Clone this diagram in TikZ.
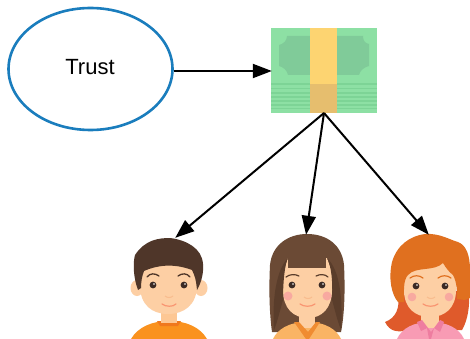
\documentclass[tikz,border=0pt]{standalone}
\usepackage{fontspec}
\setmainfont{Liberation Sans}
\usetikzlibrary{arrows.meta,shapes.geometric}
\definecolor{skin}{HTML}{FDCFA4}
\definecolor{skind}{HTML}{F8BC8E}
\definecolor{eyec}{HTML}{3A2A25}
\definecolor{cheek}{HTML}{F8A9A0}
\definecolor{browm}{HTML}{4F3629}
\definecolor{hairb}{HTML}{6B4A35}
\definecolor{hairbd}{HTML}{5A3D2B}
\definecolor{hairo}{HTML}{E0701F}
\definecolor{hairr}{HTML}{DF5A2B}
\definecolor{c}{HTML}{1A7DBD}
\tikzset{
  x=1pt,y=-1pt,
  trustnode/.style={draw=c,line width=2.6pt,ellipse,minimum width=164pt,minimum height=122pt,inner sep=0pt,font=\fontsize{22pt}{24pt}\selectfont},
  conn/.style={draw=black,line width=2pt,-{Triangle[length=19pt,width=14pt]}},
  anchorpt/.style={inner sep=0pt,minimum size=0pt},
  eyedot/.style={fill=eyec},
  mouthline/.style={draw=skind!80!red,line width=1.2pt,line cap=round},
}
\begin{document}
\begin{tikzpicture}
\useasboundingbox (0,0) rectangle (470,339);
\clip (0,0) rectangle (470,339);
\fill[white] (0,0) rectangle (470,339);
% money
\fill[fill={rgb,255:red,141;green,224;blue,164}] (271,28) rectangle (377,113);
\fill[fill={rgb,255:red,128;green,203;blue,153}] (287,36) -- (363,36) .. controls (363,41) and (365,43) .. (369,44) -- (369,66) .. controls (365,67) and (360,70) .. (359,75) -- (288,75) .. controls (287,70) and (283,67) .. (279,66) -- (279,45) .. controls (283,44) and (287,41) .. (287,36) -- cycle;
\foreach \yy in {83.5,88,92.5,96.5,100.5,104.5,108}
  \fill[fill={rgb,255:red,125;green,212;blue,150}] (271,\yy) rectangle (377,\yy+1.2);
\fill[fill={rgb,255:red,253;green,212;blue,113}] (310,28) rectangle (337,84);
\fill[fill={rgb,255:red,230;green,190;blue,110}] (310,84) rectangle (337,113);
\node[anchorpt,minimum width=106pt,minimum height=85pt] (money) at (324,70.5) {};
% man
\fill[fill=skin] (137,288) ellipse [x radius=6.5,y radius=8];
\fill[fill=skin] (201,288) ellipse [x radius=6.5,y radius=8];
\fill[fill={rgb,255:red,250;green,146;blue,30}] (131,339) .. controls (138,327) and (152,321) .. (169,321) .. controls (186,321) and (200,327) .. (207,339) -- cycle;
\fill[fill={rgb,255:red,240;green,120;blue,30}] (157,321) -- (181,321) -- (178,326) -- (160,326) -- cycle;
\fill[fill=skin!90!orange] (161,305) rectangle (177,323);
\fill[fill=skin] (140,262) -- (197,262) -- (197,285) .. controls (197,305) and (184,314) .. (168,314) .. controls (152,314) and (140,305) .. (140,285) -- cycle;
\fill[fill=browm] (138,290) .. controls (133,277) and (133,262) .. (135,255) .. controls (145,240) and (158,238) .. (170,238) .. controls (186,240) and (202,248) .. (203,264) .. controls (204,275) and (200,285) .. (197,290) .. controls (196,280) and (195,276) .. (192,270) .. controls (176,264) and (160,264) .. (144,271) .. controls (142,276) and (141,282) .. (141,288) -- cycle;
\fill[eyedot] (153,285) circle (3.4);
\fill[eyedot] (184,285) circle (3.4);
\fill[white] (154,284) circle (0.8);
\fill[white] (185,284) circle (0.8);
\draw[draw=browm,line width=1.3pt,line cap=round] (147,277) .. controls (150,273) and (155,273) .. (159,276);
\draw[draw=browm,line width=1.3pt,line cap=round] (178,276) .. controls (182,273) and (187,273) .. (190,277);
\draw[mouthline] (162,304) .. controls (166,307) and (173,307) .. (176,304);
\draw[draw=skind,line width=1pt] (165,296) .. controls (167,298) and (171,298) .. (173,296);
\node[anchorpt] (manp) at (175,238) {};
% woman
\fill[fill=hairb] (272,332) .. controls (269,310) and (269,285) .. (270,265) .. controls (272,245) and (288,234) .. (307,234) .. controls (327,234) and (342,245) .. (344,265) .. controls (345,285) and (345,312) .. (341,332) -- cycle;
\fill[fill={rgb,255:red,250;green,180;blue,100}] (273,339) .. controls (277,330) and (288,322) .. (307,322) .. controls (326,322) and (337,330) .. (341,339) -- cycle;
\fill[fill=skin] (299,310) rectangle (315,328);
\fill[fill={rgb,255:red,240;green,140;blue,50}] (294,322) -- (299,322) -- (308,332) -- (316,322) -- (320,322) -- (309,339) -- (306,339) -- cycle;
\fill[fill=skin] (288,258) -- (327,258) -- (332,272) -- (332,290) .. controls (332,308) and (322,318) .. (308,318) .. controls (293,318) and (283,308) .. (283,290) -- (283,272) -- cycle;
\fill[fill=hairb] (288,255) -- (326,255) -- (326,268) -- (288,268) -- cycle;
\fill[fill=hairbd] (288,258) .. controls (285,264) and (283,280) .. (283,300) .. controls (280,310) and (278,320) .. (274,330) .. controls (272,300) and (276,270) .. (288,258) -- cycle;
\fill[fill=hairbd] (327,258) .. controls (331,265) and (333,280) .. (332,300) .. controls (335,310) and (337,320) .. (341,330) .. controls (343,300) and (340,270) .. (327,258) -- cycle;
\fill[fill=cheek] (288,296) circle (4.5);
\fill[fill=cheek] (327,296) circle (4.5);
\fill[eyedot] (292,285) circle (3.4);
\fill[eyedot] (322,285) circle (3.4);
\fill[white] (293,284) circle (0.8);
\fill[white] (323,284) circle (0.8);
\draw[draw=hairbd,line width=1.2pt,line cap=round] (286,277) .. controls (290,274) and (295,274) .. (299,276);
\draw[draw=hairbd,line width=1.2pt,line cap=round] (316,276) .. controls (320,274) and (325,274) .. (328,277);
\draw[mouthline] (300,304) .. controls (304,307) and (311,307) .. (315,304);
\draw[draw=skind,line width=1pt] (304,297) .. controls (306,299) and (310,299) .. (312,297);
\node[anchorpt] (womanp) at (306,235) {};
% girl
\fill[fill=hairr] (398,295) .. controls (400,308) and (396,318) .. (385,322) .. controls (390,332) and (398,332) .. (404,331) -- (462,330) .. controls (468,320) and (470,305) .. (469,290) -- cycle;
\fill[fill={rgb,255:red,248;green,155;blue,180}] (397,339) .. controls (402,328) and (414,322) .. (430,322) .. controls (447,322) and (459,328) .. (464,339) -- cycle;
\fill[fill=skin] (421,310) rectangle (439,328);
\fill[fill={rgb,255:red,238;green,125;blue,160}] (417,322) -- (422,320) -- (431,332) -- (440,320) -- (444,322) -- (440,332) -- (434,328) -- (431,339) -- (429,339) -- (427,328) -- (421,331) -- cycle;
\fill[fill=skin] (404,258) -- (456,258) -- (456,290) .. controls (456,308) and (445,317) .. (430,317) .. controls (415,317) and (404,308) .. (404,290) -- cycle;
\fill[fill=hairo] (398,302) .. controls (392,295) and (388,280) .. (392,262) .. controls (397,245) and (410,236) .. (425,234) .. controls (440,233) and (450,240) .. (458,242) .. controls (466,245) and (470,255) .. (470,270) -- (470,298) -- (465,300) -- (457,299) .. controls (457,292) and (457,282) .. (453,275) .. controls (449,272) and (446,268) .. (443,263) .. controls (434,272) and (416,266) .. (408,275) .. controls (403,280) and (404,292) .. (404,302) -- cycle;
\fill[fill=cheek] (412,297) circle (4.3);
\fill[fill=cheek] (449,297) circle (4.3);
\fill[eyedot] (416,286) circle (3.4);
\fill[eyedot] (445,286) circle (3.4);
\fill[white] (417,285) circle (0.8);
\fill[white] (446,285) circle (0.8);
\draw[draw=hairo,line width=1.2pt,line cap=round] (410,278) .. controls (414,275) and (419,275) .. (423,278);
\draw[draw=hairo,line width=1.2pt,line cap=round] (438,278) .. controls (442,275) and (447,275) .. (451,278);
\draw[mouthline] (423,304) .. controls (427,307) and (434,307) .. (438,304);
\draw[draw=skind,line width=1pt] (427,297) .. controls (429,299) and (433,299) .. (435,297);
\node[anchorpt] (girlp) at (429,235) {};
% trust
\node[trustnode] (trust) at (90.5,69) {\hspace*{-1pt}\raisebox{5pt}{Trust}};
\coordinate (fan) at (324,113);
\coordinate (level) at (0,71);
\draw[conn] (trust.east |- level) -- ([xshift=1pt]money.west |- level);
\draw[conn] (fan) -- (manp);
\draw[conn] (fan) -- (womanp);
\draw[conn] (fan) -- (girlp);
\end{tikzpicture}
\end{document}
